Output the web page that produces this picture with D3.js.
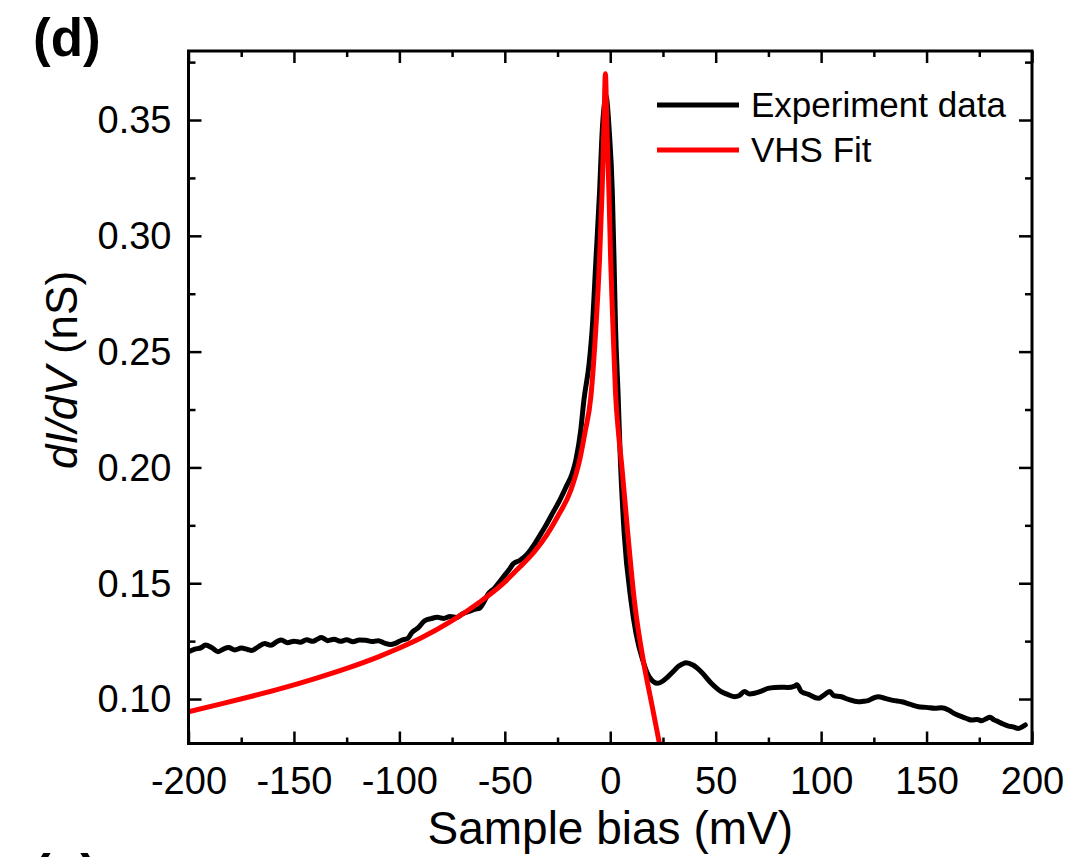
<!DOCTYPE html>
<html>
<head>
<meta charset="utf-8">
<script src="https://cdn.jsdelivr.net/npm/d3@7"></script>
<style>
  html, body { margin: 0; padding: 0; background: #fff; }
  svg { display: block; }
  text { font-family: "Liberation Sans", Arial, sans-serif; fill: #000; }
</style>
</head>
<body>
<svg id="chart" width="1078" height="857"></svg>
<script>
// ---- data ----
const biasExp = [-200,-197,-194,-192,-189,-186,-183,-181,-178,-175,-172,-170,-167,-164,-161,-158,-156,-153,-150,-147,-144,-141,-139,-137,-134,-131,-128,-125,-122,-119,-116,-113,-110,-107,-104,-102,-99,-96,-94,-91,-88,-85,-82,-79,-76,-73,-70,-67,-64,-62,-60,-58,-55,-52,-50,-48,-46,-43,-41,-39,-36,-33,-30,-27,-24,-21,-18,-16.3,-14,-12.5,-10,-8.5,-6.8,-5.1,-3.7,-2.5,-2.0,-1.3,-0.6,1.0,1.8,2.5,3.7,4.8,6.6,9.8,12.2,15.4,18.5,22.5,25,27.3,30,32,34,36,39.2,43.1,47.9,52.6,55,58.9,61,63.7,66,68.4,71,74.8,78,81.1,84,87.5,88.5,90.6,94,98.6,101,104.1,106,109.6,113,117.6,120,122.3,125,127.1,130.2,134,138.2,142,146.1,150,154,157,160.4,163,166.7,169,171.4,174,176.2,178,180.1,182,184.1,186,188.9,191,193.6,195,196.8];
const dIdVExp = [0.1204,0.1215,0.1222,0.1233,0.1222,0.1204,0.1218,0.1222,0.1212,0.1220,0.1214,0.1210,0.1225,0.1240,0.1232,0.1248,0.1255,0.1243,0.1250,0.1245,0.1256,0.1249,0.1258,0.1266,0.1252,0.1258,0.1249,0.1256,0.1247,0.1255,0.1254,0.1248,0.1252,0.1241,0.1235,0.1240,0.1254,0.1262,0.1288,0.1308,0.1338,0.1347,0.1353,0.1348,0.1356,0.1352,0.1368,0.1378,0.1388,0.1392,0.1418,0.1452,0.1478,0.1512,0.1535,0.1558,0.1584,0.1598,0.1612,0.1630,0.1668,0.1712,0.1758,0.1808,0.1858,0.1915,0.1975,0.2032,0.2160,0.2290,0.2450,0.2606,0.2895,0.3184,0.3470,0.3586,0.3605,0.3560,0.3470,0.3184,0.2895,0.2606,0.2321,0.2032,0.1717,0.1427,0.1284,0.1168,0.1096,0.1068,0.1078,0.1096,0.1120,0.1139,0.1150,0.1157,0.1147,0.1118,0.1068,0.1032,0.1022,0.1010,0.1014,0.1032,0.1022,0.1025,0.1032,0.1046,0.1050,0.1051,0.1050,0.1056,0.1062,0.1032,0.1020,0.1003,0.1015,0.1032,0.1015,0.1010,0.0998,0.0988,0.0990,0.0993,0.1005,0.1010,0.1003,0.0994,0.0988,0.0978,0.0967,0.0964,0.0960,0.0962,0.0953,0.0938,0.0924,0.0916,0.0909,0.0912,0.0906,0.0914,0.0921,0.0910,0.0902,0.0893,0.0883,0.0880,0.0873,0.0878,0.0888];

const biasFit = [-200,-185,-170,-155,-140,-125,-110,-100,-90,-75,-62,-51,-44,-36,-30,-25,-18.7,-14.5,-12,-9.2,-6.8,-5.1,-3.9,-3.0,-2.3,-1.6,-0.6,0.2,1.3,2.5,3.9,5.5,8.3,11.4,16.2,19.3,23.3,25];
const dIdVFit = [0.0945,0.0978,0.1012,0.1048,0.1088,0.1132,0.1182,0.1220,0.1262,0.1338,0.1418,0.1497,0.1560,0.1636,0.1710,0.1787,0.1902,0.2032,0.2150,0.2305,0.2606,0.2895,0.3184,0.3470,0.3700,0.3470,0.3184,0.2895,0.2606,0.2321,0.2150,0.2003,0.1717,0.1427,0.1139,0.0996,0.0809,0.0730];

const xTicks = [-200,-150,-100,-50,0,50,100,150,200];
const xMinorTicks = [-175,-125,-75,-25,25,75,125,175];
const yTicks = [0.10,0.15,0.20,0.25,0.30,0.35];
const yMinorTicks = [0.125,0.175,0.225,0.275,0.325,0.375];
const seriesNames = ["Experiment data", "VHS Fit"];
const seriesColors = ["#000000", "#ff0000"];

// ---- layout ----
const L = 188.5, R = 1032, T = 51, B = 743.5;
const svg = d3.select("#chart");
const x = d3.scaleLinear().domain([-200, 200]).range([L, R]);
const y = d3.scaleLinear().domain([0.0808, 0.3798]).range([B, T]);

svg.append("defs").append("clipPath").attr("id", "plotclip")
  .append("rect").attr("x", L).attr("y", T - 30).attr("width", R - L).attr("height", B - T + 30);

const line = d3.line().x(d => x(d[0])).y(d => y(d[1])).curve(d3.curveMonotoneX);

const expData = biasExp.map((b, i) => [b, dIdVExp[i]]);
const fitData = biasFit.map((b, i) => [b, dIdVFit[i]]);

const plot = svg.append("g").attr("clip-path", "url(#plotclip)");
plot.append("path").datum(expData).attr("d", line)
  .attr("fill", "none").attr("stroke", seriesColors[0]).attr("stroke-width", 5)
  .attr("stroke-linejoin", "round").attr("stroke-linecap", "round");
plot.append("path").datum(fitData).attr("d", line)
  .attr("fill", "none").attr("stroke", seriesColors[1]).attr("stroke-width", 5)
  .attr("stroke-linejoin", "miter");

// ---- axes (ticks inward on all four sides) ----
const fmtY = d3.format(".2f");
const fmtX = d => String(d);   // plain hyphen-minus as in the reference
const axBottom = svg.append("g").attr("transform", `translate(0,${B})`)
  .call(d3.axisBottom(x).tickValues(xTicks).tickSize(-12).tickPadding(24).tickFormat(fmtX));
svg.append("g").attr("transform", `translate(0,${B})`)
  .call(d3.axisBottom(x).tickValues(xMinorTicks).tickSize(-6).tickFormat(""));
svg.append("g").attr("transform", `translate(0,${T})`)
  .call(d3.axisTop(x).tickValues(xTicks).tickSize(-12).tickFormat(""));
svg.append("g").attr("transform", `translate(0,${T})`)
  .call(d3.axisTop(x).tickValues(xMinorTicks).tickSize(-6).tickFormat(""));
const axLeft = svg.append("g").attr("transform", `translate(${L},0)`)
  .call(d3.axisLeft(y).tickValues(yTicks).tickSize(-13).tickPadding(17).tickFormat(fmtY));
svg.append("g").attr("transform", `translate(${L},0)`)
  .call(d3.axisLeft(y).tickValues(yMinorTicks).tickSize(-7).tickFormat(""));
svg.append("g").attr("transform", `translate(${R},0)`)
  .call(d3.axisRight(y).tickValues(yTicks).tickSize(-13).tickFormat(""));
svg.append("g").attr("transform", `translate(${R},0)`)
  .call(d3.axisRight(y).tickValues(yMinorTicks).tickSize(-7).tickFormat(""));

svg.selectAll(".domain").remove();
svg.selectAll(".tick line").attr("stroke", "#000").attr("stroke-width", 2.5);
svg.selectAll(".tick text").attr("font-size", 38).attr("font-family", '"Liberation Sans", Arial, sans-serif').attr("fill", "#000");
axBottom.selectAll(".tick text").attr("dy", "0.71em");
axLeft.selectAll(".tick text").attr("dy", "0.34em");

// frame
svg.append("rect").attr("x", L).attr("y", T).attr("width", R - L).attr("height", B - T)
  .attr("fill", "none").attr("stroke", "#000").attr("stroke-width", 3);

// ---- axis titles ----
svg.append("text").attr("x", (L + R) / 2).attr("y", 844).attr("text-anchor", "middle")
  .attr("font-size", 46).text("Sample bias (mV)");

const yt = svg.append("text").attr("transform", `translate(77,370) rotate(-90)`)
  .attr("text-anchor", "middle").attr("font-size", 44);
yt.append("tspan").attr("font-style", "italic").text("dI/dV");
yt.append("tspan").text(" (nS)");

// panel labels (the next panel's label is cut by the bottom edge, as in the reference)
svg.append("text").attr("x", 33).attr("y", 56).attr("font-size", 53).attr("font-weight", "bold").text("(d)");
svg.append("text").attr("x", 33).attr("y", 892).attr("font-size", 53).attr("font-weight", "bold").text("(e)");

// ---- legend ----
const legY = [105, 150];
const leg = svg.append("g");
seriesNames.forEach((name, i) => {
  leg.append("line").attr("x1", 657).attr("x2", 739).attr("y1", legY[i]).attr("y2", legY[i])
    .attr("stroke", seriesColors[i]).attr("stroke-width", 5);
  leg.append("text").attr("x", 751).attr("y", legY[i] + 12).attr("font-size", 35).text(name);
});
</script>
</body>
</html>
